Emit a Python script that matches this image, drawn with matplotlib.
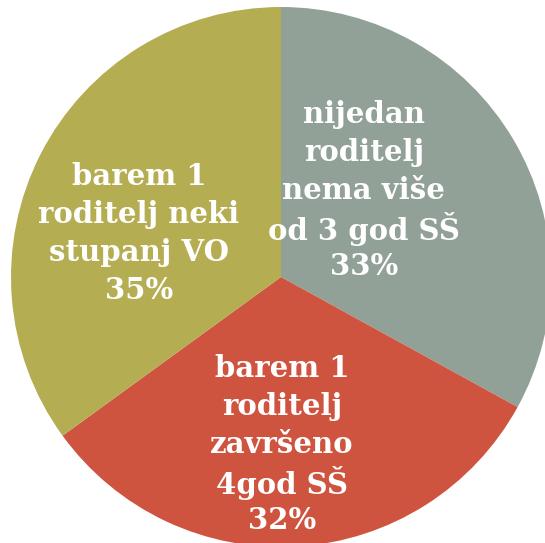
import matplotlib
matplotlib.use("Agg")
import matplotlib.pyplot as plt

# slice data, clockwise from 12 o'clock
labels = [
    ["nijedan", "roditelj", "nema više", "od 3 god SŠ"],
    ["barem 1", "roditelj", "završeno", "4god SŠ"],
    ["barem 1", "roditelj neki", "stupanj VO"],
]
shares = [33, 32, 35]
colors = ["#92a197", "#cf5440", "#b5ad52"]
# centre of each label block inside the pie (axes data units, radius = 1)
label_pos = [(0.307, 0.33), (0.004, -0.611), (-0.526, 0.174)]

W, H, R, CX, CY = 545, 543, 270, 281, 277
LINE_STEP = 38 / R  # uniform line pitch, like the original slide

fig = plt.figure(figsize=(W / 100, H / 100), dpi=100)
fig.patch.set_facecolor("white")
ax = fig.add_axes([(CX - R) / W, (H - CY - R) / H, 2 * R / W, 2 * R / H])

ax.pie(shares, colors=colors, startangle=90, counterclock=False,
       radius=1.0, wedgeprops=dict(linewidth=0))
ax.set_xlim(-1, 1)
ax.set_ylim(-1, 1)
ax.axis("off")

for lines, val, (x, y) in zip(labels, shares, label_pos):
    rows = lines + [f"{val}%"]
    n = len(rows)
    for i, row in enumerate(rows):
        ax.text(x, y - (i - (n - 1) / 2) * LINE_STEP, row,
                ha="center", va="center_baseline", color="white",
                fontsize=21, fontweight="bold", family="DejaVu Serif")

fig.savefig("out.png", dpi=100)
